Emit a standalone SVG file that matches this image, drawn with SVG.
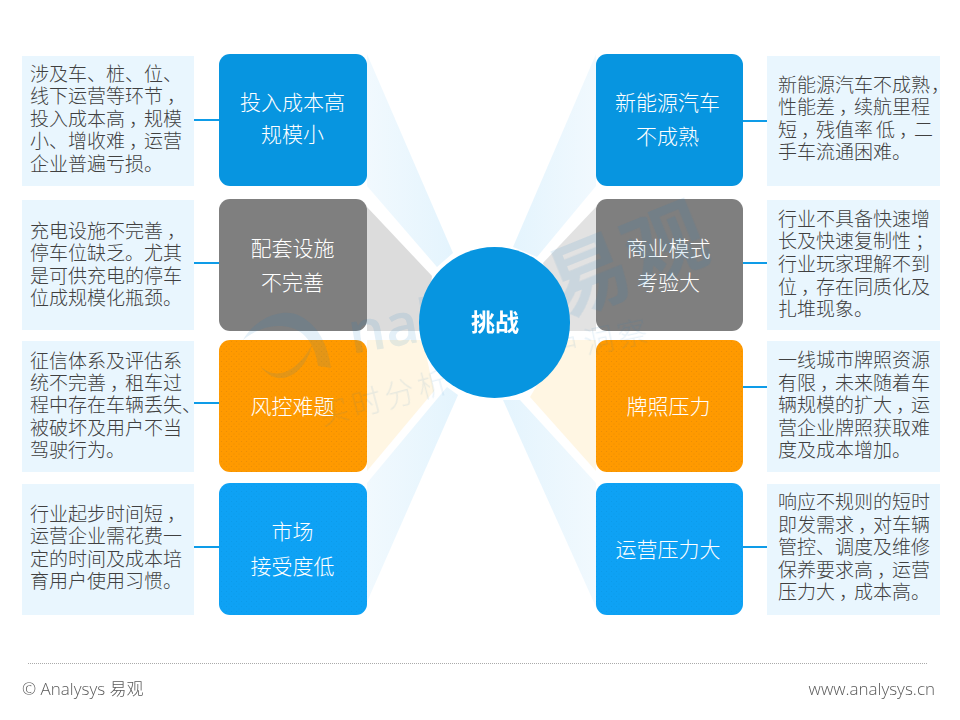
<svg xmlns="http://www.w3.org/2000/svg" width="960" height="720" viewBox="0 0 960 720">
<style>
text{font-family:"Noto Sans CJK SC","Noto Sans",sans-serif}
.d{font-size:19px;fill:#404040;font-weight:300}
.n{font-size:21px;fill:#fff;text-anchor:middle;font-weight:300}
.c{font-size:24px;fill:#fff;text-anchor:middle;font-weight:700}
.b{fill:#e9f6fe}
.l{fill:none;stroke:#0e9ce8;stroke-width:2}
.f{font-size:17px;fill:#595959;font-weight:300;font-family:"Open Sans","Noto Sans CJK SC",sans-serif}
.w{fill:#1f7fc0}
</style>
<defs>
<pattern id="po" width="5" height="5" patternUnits="userSpaceOnUse"><rect width="5" height="5" fill="#ff9a00"/><circle cx="1.500" cy="1.500" r=".6" fill="#e88c06"/><circle cx="4" cy="4" r=".6" fill="#e88c06"/></pattern>
<pattern id="pb" width="5" height="5" patternUnits="userSpaceOnUse"><rect width="5" height="5" fill="#0ea2f5"/><circle cx="1.500" cy="1.500" r=".5" fill="#0b98e6"/><circle cx="4" cy="4" r=".5" fill="#0b98e6"/></pattern>
<linearGradient id="gl"><stop offset="0" stop-color="#f1f9fe"/><stop offset="1" stop-color="#e4f4fd"/></linearGradient>
<linearGradient id="gr"><stop offset="0" stop-color="#e4f4fd"/><stop offset="1" stop-color="#f1f9fe"/></linearGradient>
</defs>
<rect width="960" height="720" fill="#fff"/>
<g id="wedges">
<polygon points="367,54 367,186 437,267 453,253" fill="url(#gl)"/>
<polygon points="367,207 367,331 425,331 432,276" fill="#dcdcdc"/>
<polygon points="367,340 367,471 434,391 424,345 420,340" fill="#fff6e3"/>
<polygon points="367,483 367,602 458,395 447,387" fill="url(#gl)"/>
<polygon points="596,54 596,186 537,257 513,247" fill="url(#gr)"/>
<polygon points="596,207 596,331 564,331 543,263" fill="#e2e2e2"/>
<polygon points="596,340 596,471 530,397 564,340" fill="#fff6e3"/>
<polygon points="596,483 596,607 503,400 520,400" fill="url(#gr)"/>
</g>
<g id="connectors">
<path class="l" d="M192 120H219M192 263H219M192 403H219M192 547H219M743 121H770M743 263H770M743 387H770M743 547H770"/>
</g>
<g id="box-l1"><rect class="b" x="22" y="56" width="172" height="130"/>
<text class="d" x="30" y="81">涉及车、桩、位、</text>
<text class="d" x="30" y="103">线下运营等环节<tspan dx="4">，</tspan></text>
<text class="d" x="30" y="126">投入成本高<tspan dx="4">，</tspan><tspan dx="-4">规模</tspan></text>
<text class="d" x="30" y="148">小、增收难<tspan dx="4">，</tspan><tspan dx="-4">运营</tspan></text>
<text class="d" x="30" y="171">企业普遍亏损。</text></g>
<g id="box-l2"><rect class="b" x="22" y="200" width="172" height="130"/>
<text class="d" x="30" y="238">充电设施不完善<tspan dx="4">，</tspan></text>
<text class="d" x="30" y="260">停车位缺乏。尤其</text>
<text class="d" x="30" y="283">是可供充电的停车</text>
<text class="d" x="30" y="305">位成规模化瓶颈。</text></g>
<g id="box-l3"><rect class="b" x="22" y="341" width="172" height="131"/>
<text class="d" x="30" y="368">征信体系及评估系</text>
<text class="d" x="30" y="390">统不完善<tspan dx="4">，</tspan><tspan dx="-4">租车过</tspan></text>
<text class="d" x="30" y="412">程中存在车辆丢失、</text>
<text class="d" x="30" y="435">被破坏及用户不当</text>
<text class="d" x="30" y="457">驾驶行为。</text></g>
<g id="box-l4"><rect class="b" x="22" y="484" width="172" height="131"/>
<text class="d" x="30" y="521">行业起步时间短<tspan dx="4">，</tspan></text>
<text class="d" x="30" y="543">运营企业需花费一</text>
<text class="d" x="30" y="566">定的时间及成本培</text>
<text class="d" x="30" y="588">育用户使用习惯。</text></g>
<g id="box-r1"><rect class="b" x="767" y="56" width="173" height="130"/>
<text class="d" x="778" y="92">新能源汽车不成熟<tspan dx="1">，</tspan></text>
<text class="d" x="778" y="114">性能差<tspan dx="4">，</tspan><tspan dx="-4">续航里程</tspan></text>
<text class="d" x="778" y="137">短<tspan dx="4">，</tspan><tspan dx="-4">残值率</tspan><tspan dx="3">低</tspan><tspan dx="4">，</tspan><tspan dx="-4">二</tspan></text>
<text class="d" x="778" y="159">手车流通困难。</text></g>
<g id="box-r2"><rect class="b" x="767" y="200" width="173" height="130"/>
<text class="d" x="778" y="226">行业不具备快速增</text>
<text class="d" x="778" y="248">长及快速复制性<tspan dx="4">；</tspan></text>
<text class="d" x="778" y="271">行业玩家理解不到</text>
<text class="d" x="778" y="294">位<tspan dx="4">，</tspan><tspan dx="-4">存在同质化及</tspan></text>
<text class="d" x="778" y="316">扎堆现象。</text></g>
<g id="box-r3"><rect class="b" x="767" y="341" width="173" height="131"/>
<text class="d" x="778" y="367">一线城市牌照资源</text>
<text class="d" x="778" y="390">有限<tspan dx="4">，</tspan><tspan dx="-4">未来随着车</tspan></text>
<text class="d" x="778" y="412">辆规模的扩大<tspan dx="4">，</tspan><tspan dx="-4">运</tspan></text>
<text class="d" x="778" y="435">营企业牌照获取难</text>
<text class="d" x="778" y="457">度及成本增加。</text></g>
<g id="box-r4"><rect class="b" x="767" y="484" width="173" height="131"/>
<text class="d" x="778" y="509">响应不规则的短时</text>
<text class="d" x="778" y="532">即发需求<tspan dx="4">，</tspan><tspan dx="-4">对车辆</tspan></text>
<text class="d" x="778" y="554">管控、调度及维修</text>
<text class="d" x="778" y="577">保养要求高<tspan dx="4">，</tspan><tspan dx="-4">运营</tspan></text>
<text class="d" x="778" y="599">压力大<tspan dx="4">，</tspan><tspan dx="-4">成本高。</tspan></text></g>
<g id="node-l1"><rect x="219" y="54" width="148" height="132" rx="11" fill="#0795e0"/>
<text class="n" x="292.500" y="109.500">投入成本高</text><text class="n" x="292.500" y="141.500">规模小</text></g>
<g id="node-l2"><rect x="219" y="199" width="148" height="132" rx="11" fill="#7f7f7f"/>
<text class="n" x="292.500" y="255.500">配套设施</text><text class="n" x="292.500" y="289.500">不完善</text></g>
<g id="node-l3"><rect x="219" y="340" width="148" height="132" rx="11" fill="url(#po)"/>
<text class="n" x="292.500" y="413.500">风控难题</text></g>
<g id="node-l4"><rect x="219" y="483" width="148" height="132" rx="11" fill="url(#pb)"/>
<text class="n" x="292.500" y="538.500">市场</text><text class="n" x="292.500" y="573.500">接受度低</text></g>
<g id="node-r1"><rect x="596" y="54" width="147" height="132" rx="11" fill="#0795e0"/>
<text class="n" x="667.500" y="109.500">新能源汽车</text><text class="n" x="667.500" y="143.500">不成熟</text></g>
<g id="node-r2"><rect x="596" y="199" width="147" height="132" rx="11" fill="#7f7f7f"/>
<text class="n" x="668.500" y="255.500">商业模式</text><text class="n" x="668.500" y="289.500">考验大</text></g>
<g id="node-r3"><rect x="596" y="340" width="147" height="132" rx="11" fill="url(#po)"/>
<text class="n" x="668.500" y="413.500">牌照压力</text></g>
<g id="node-r4"><rect x="596" y="483" width="147" height="132" rx="11" fill="url(#pb)"/>
<text class="n" x="668" y="556.500">运营压力大</text></g>
<g id="watermark">
<g opacity=".12">
<path d="M243 340C258 315 285 308 300 316C318 325 328 345 331 368L318 366C316 350 308 333 292 328C275 323 258 328 243 340Z" class="w"/>
<path d="M260 366C275 380 295 375 312 345C306 372 280 392 260 366Z" class="w"/>
<text class="w" transform="translate(352 354) rotate(-10)" font-size="58" font-weight="600" style="font-family:'Open Sans',sans-serif">nalysys</text>
<text class="w" transform="translate(562 318) rotate(-22)" font-size="82" font-weight="700">易观</text>
</g>
<g opacity=".1">
<text class="w" transform="translate(322 425) rotate(-15)" font-size="30" font-weight="300" letter-spacing="4">实时分析</text>
<text class="w" transform="translate(520 368) rotate(-12)" font-size="30" font-weight="300" letter-spacing="4">用户洞察</text>
</g>
</g>
<g id="center"><circle cx="494.500" cy="322.500" r="75.500" fill="#0795e0"/>
<text class="c" x="495" y="331">挑战</text></g>
<g id="footer">
<line x1="28" y1="663.500" x2="927" y2="663.500" stroke="#aaa" stroke-width="1" stroke-dasharray="1 1"/>
<text class="f" x="22" y="695">© Analysys 易观</text>
<text class="f" x="935" y="695" text-anchor="end">www.analysys.cn</text>
</g>
</svg>
